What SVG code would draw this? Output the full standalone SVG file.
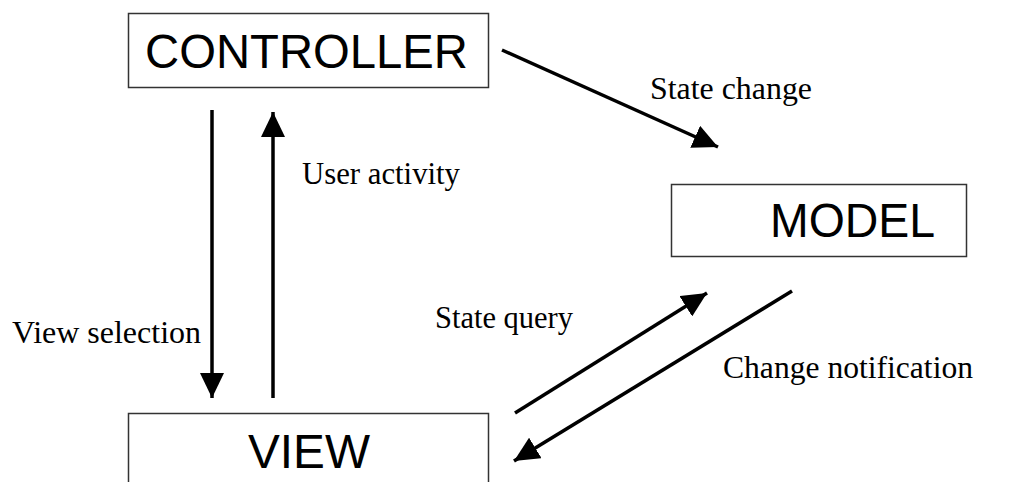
<svg xmlns="http://www.w3.org/2000/svg" width="1021" height="482" viewBox="0 0 1021 482">
  <style>
    .box { fill: #ffffff; stroke: #333333; stroke-width: 1.5; }
    .title { font-family: "Liberation Sans", Arial, sans-serif; font-size: 48px; fill: #000000; }
    .label { font-family: "Liberation Serif", "Times New Roman", serif; font-size: 30.5px; fill: #000000; }
    .link { stroke: #000000; stroke-width: 3.5; fill: none; marker-end: url(#head); }
  </style>
  <defs>
    <marker id="head" markerUnits="userSpaceOnUse" viewBox="0 0 25 24" markerWidth="25" markerHeight="24" refX="25" refY="12" orient="auto">
      <path d="M0,0 L25,12 L0,24 z" fill="#000000"/>
    </marker>
  </defs>
  <rect width="1021" height="482" fill="#ffffff"/>

  <g id="controller">
    <rect class="box" x="128.5" y="13.5" width="360" height="74"/>
    <text class="title" x="145" y="68" textLength="323" lengthAdjust="spacingAndGlyphs">CONTROLLER</text>
  </g>

  <g id="model">
    <rect class="box" x="671.5" y="184.5" width="295" height="72"/>
    <text class="title" x="770" y="237" textLength="165" lengthAdjust="spacingAndGlyphs">MODEL</text>
  </g>

  <g id="view">
    <rect class="box" x="128.5" y="413.5" width="360" height="80"/>
    <text class="title" x="248" y="468" textLength="122" lengthAdjust="spacingAndGlyphs">VIEW</text>
  </g>

  <g id="connectors">
    <line class="link" x1="502" y1="50" x2="718" y2="147"/>
    <line class="link" x1="212" y1="110" x2="212" y2="398"/>
    <line class="link" x1="273" y1="398" x2="273" y2="112"/>
    <line class="link" x1="515" y1="413" x2="707" y2="293"/>
    <line class="link" x1="792" y1="291" x2="514" y2="461"/>
  </g>

  <g id="labels">
    <text class="label" x="650" y="99" textLength="162" lengthAdjust="spacingAndGlyphs">State change</text>
    <text class="label" x="302" y="184" textLength="158" lengthAdjust="spacingAndGlyphs">User activity</text>
    <text class="label" x="12" y="343" textLength="189" lengthAdjust="spacingAndGlyphs">View selection</text>
    <text class="label" x="435" y="328" textLength="138" lengthAdjust="spacingAndGlyphs">State query</text>
    <text class="label" x="723" y="378" textLength="250" lengthAdjust="spacingAndGlyphs">Change notification</text>
  </g>
</svg>
